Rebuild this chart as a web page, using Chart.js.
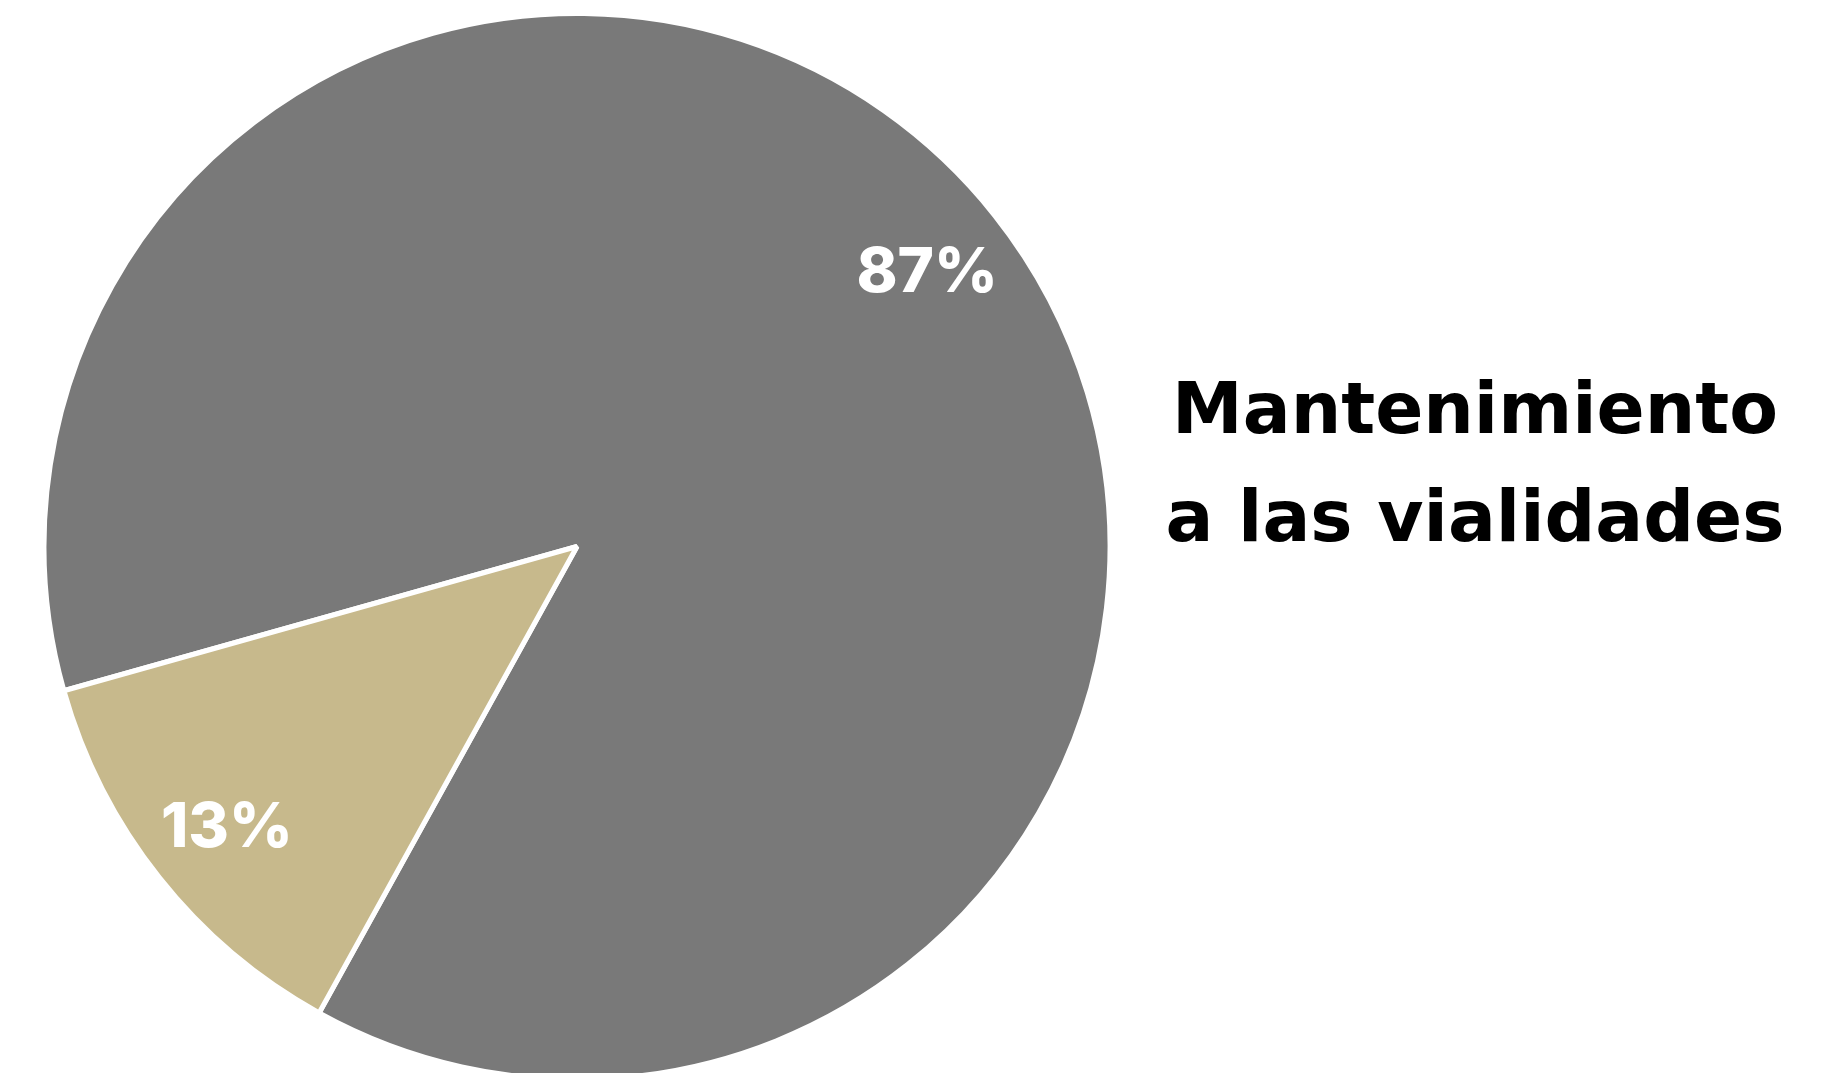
<!DOCTYPE html>
<html>
<head>
<meta charset="utf-8">
<script src="https://cdn.jsdelivr.net/npm/chart.js@4"></script>
<style>
  html, body { margin: 0; padding: 0; background: #ffffff; }
  #wrap { width: 1839px; height: 1073px; position: relative; }
</style>
</head>
<body>
<div id="wrap"><canvas id="c" width="1839" height="1073"></canvas></div>
<script>
// ---- data ----
const legendLines = ['Mantenimiento', 'a las vialidades'];
const categories = [legendLines.join(' '), ''];
const values = [87.4, 12.6];
const colors = ['#797979', '#c7b98c'];

const pctLabels = {
  id: 'pctLabels',
  afterDatasetsDraw(chart) {
    const ctx = chart.ctx;
    const meta = chart.getDatasetMeta(0);
    const total = values.reduce((a, b) => a + b, 0);
    ctx.save();
    ctx.fillStyle = '#ffffff';
    ctx.font = '800 62px Inter';
    ctx.textAlign = 'center';
    ctx.textBaseline = 'alphabetic';
    meta.data.forEach((arc, i) => {
      const p = arc.getProps(['x', 'y', 'startAngle', 'endAngle', 'outerRadius'], true);
      const mid = (p.startAngle + p.endAngle) / 2;
      const r = p.outerRadius * 0.838;
      const x = p.x + Math.cos(mid) * r;
      const y = p.y + Math.sin(mid) * r;
      const txt = Math.round(values[i] / total * 100) + '%';
      const m = ctx.measureText(txt);
      const h = m.actualBoundingBoxAscent;
      ctx.fillText(txt, x, y + h / 2);
    });
    ctx.restore();
  }
};

const sideLegend = {
  id: 'sideLegend',
  afterDraw(chart) {
    const ctx = chart.ctx;
    const area = chart.chartArea;
    ctx.save();
    ctx.fillStyle = '#000000';
    ctx.font = 'bold 71px "DejaVu Sans"';
    ctx.textAlign = 'center';
    ctx.textBaseline = 'alphabetic';
    const cx = area.right + 321;
    const y0 = 433;
    legendLines.forEach((t, i) => ctx.fillText(t, cx, y0 + i * 108));
    ctx.restore();
  }
};

new Chart(document.getElementById('c'), {
  type: 'pie',
  data: {
    labels: categories,
    datasets: [{
      data: values,
      backgroundColor: colors,
      borderColor: '#ffffff',
      borderWidth: 5
    }]
  },
  options: {
    responsive: false,
    animation: false,
    rotation: 254.3,
    radius: 533,
    layout: { padding: { left: 0, right: 685, top: 20, bottom: 0 } },
    plugins: {
      legend: { display: false },
      tooltip: { enabled: false }
    }
  },
  plugins: [pctLabels, sideLegend]
});
</script>
</body>
</html>
